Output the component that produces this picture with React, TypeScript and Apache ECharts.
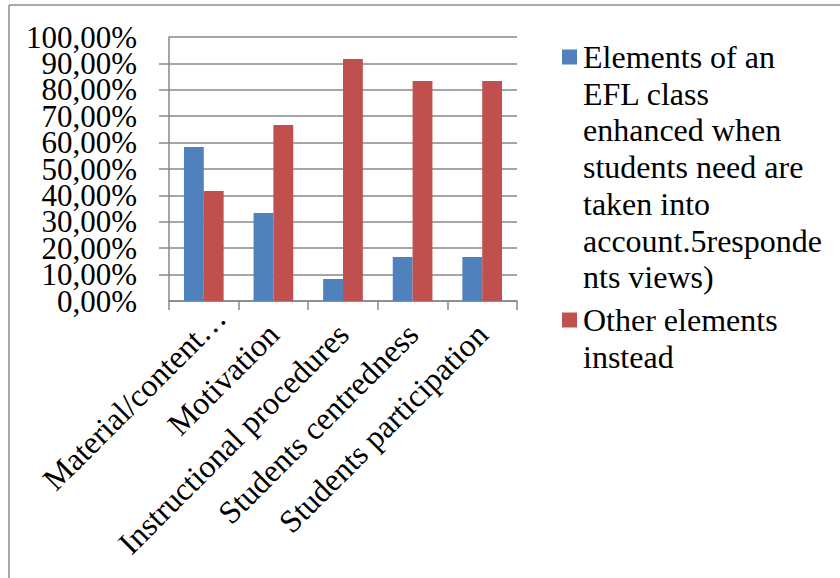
import React, { useEffect, useRef } from "react";
import * as echarts from "echarts";

const categories = [
  "Material/content…",
  "Motivation",
  "Instructional procedures",
  "Students centredness",
  "Students participation",
];
const seriesNames = [
  "Elements of an\nEFL class\nenhanced when\nstudents need are\ntaken into\naccount.5responde\nnts views)",
  "Other elements\ninstead",
];
const enhancedValues = [58.33, 33.33, 8.33, 16.67, 16.67];
const otherValues = [41.67, 66.67, 91.67, 83.33, 83.33];
const seriesColors = ["#4F81BD", "#C0504D"];

const FONT = "Liberation Serif";

const pct = (v: number) => v.toFixed(2).replace(".", ",") + "%";

export default function App() {
  const ref = useRef<HTMLDivElement>(null);
  useEffect(() => {
    if (!ref.current) return;
    const chart = echarts.init(ref.current, undefined, { renderer: "svg" });
    const legendCenters = [57, 320];
    const lineStep = 36.7;
    const legendGraphics: any[] = [];
    seriesNames.forEach((name, i) => {
      legendGraphics.push({
        type: "rect",
        shape: { x: 562, y: legendCenters[i] - 7.5, width: 15, height: 15 },
        style: { fill: seriesColors[i] },
      });
      name.split("\n").forEach((line, k) => {
        legendGraphics.push({
          type: "text",
          x: 583,
          y: legendCenters[i] + k * lineStep,
          style: {
            text: line,
            fontFamily: FONT,
            fontSize: 32,
            fill: "#000",
            verticalAlign: "middle",
            align: "left",
          },
        });
      });
    });
    const yLabelStyle = {
      margin: 32,
      color: "#000",
      fontFamily: FONT,
      fontSize: 31,
      formatter: pct,
    };
    chart.setOption({
      animation: false,
      backgroundColor: "#fff",
      grid: { left: 169, right: 323, top: 37, bottom: 277, containLabel: false },
      xAxis: {
        type: "category",
        data: categories,
        boundaryGap: true,
        axisLine: { lineStyle: { color: "#888", width: 1.5 } },
        axisTick: { show: true, length: 9, interval: 0, lineStyle: { color: "#888", width: 1.5 } },
        axisLabel: {
          interval: 0,
          rotate: 45,
          margin: 28,
          color: "#000",
          fontFamily: FONT,
          fontSize: 32,
          formatter: (v: string, idx: number) => (idx === 0 ? "{first|" + v + "}" : v),
          rich: {
            first: {
              color: "#000",
              fontFamily: FONT,
              fontSize: 32,
              width: 220,
              align: "left",
            },
          },
        },
      },
      yAxis: [
        {
          type: "value",
          min: 0,
          max: 100,
          interval: 10,
          axisLine: { show: true, lineStyle: { color: "#888", width: 1.5 } },
          axisTick: { show: true, length: 10, lineStyle: { color: "#888", width: 1.5 } },
          splitLine: { show: true, lineStyle: { color: "#888", width: 1.5 } },
          axisLabel: { ...yLabelStyle, showMinLabel: false, showMaxLabel: false },
        },
        {
          type: "value",
          position: "left",
          min: 0,
          max: 100,
          interval: 100,
          axisLine: { show: false },
          axisTick: { show: false },
          splitLine: { show: false },
          axisLabel: { ...yLabelStyle, showMinLabel: true, showMaxLabel: true },
        },
      ],
      series: [
        {
          name: seriesNames[0],
          type: "bar",
          data: enhancedValues,
          itemStyle: { color: seriesColors[0] },
          barGap: "0%",
          barCategoryGap: "43%",
        },
        {
          name: seriesNames[1],
          type: "bar",
          data: otherValues,
          itemStyle: { color: seriesColors[1] },
          barGap: "0%",
          barCategoryGap: "43%",
        },
      ],
      graphic: [
        {
          type: "line",
          shape: { x1: 9, y1: 5, x2: 840, y2: 5 },
          style: { stroke: "#8c8c8c", lineWidth: 1.5 },
        },
        {
          type: "line",
          shape: { x1: 9, y1: 5, x2: 9, y2: 578 },
          style: { stroke: "#8c8c8c", lineWidth: 1.5 },
        },
        ...legendGraphics,
      ],
    });
    return () => chart.dispose();
  }, []);
  return (
    <div
      ref={ref}
      style={{ position: "fixed", left: 0, top: 0, width: 840, height: 578 }}
    />
  );
}
